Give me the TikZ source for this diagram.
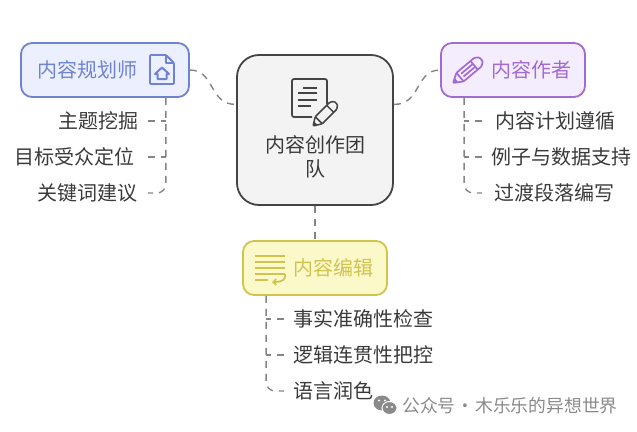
\documentclass[tikz,border=0pt]{standalone}
\usepackage{fontspec}
\setmainfont{Noto Sans CJK SC}
\usetikzlibrary{arrows.meta}
\definecolor{plannerline}{HTML}{6E83D2}
\definecolor{plannerfill}{HTML}{ECF0FE}
\definecolor{authorline}{HTML}{A26AD4}
\definecolor{authorfill}{HTML}{F4EDFD}
\definecolor{editorline}{HTML}{CFC44E}
\definecolor{editorfill}{HTML}{FBF8C9}
\definecolor{hubline}{HTML}{444444}
\definecolor{hubfill}{HTML}{F3F3F3}
\definecolor{linkgray}{HTML}{858585}
\definecolor{leaftext}{HTML}{3A3A3A}
\definecolor{marktext}{HTML}{8A8A8A}
\newcommand{\pencilbody}{
    \draw[rounded corners=1pt, line join=round] (0,0) -- (9,-5.5) -- (32,-5.5) -- (36,-2.5) -- (36,2.5) -- (32,5.5) -- (9,5.5) -- cycle;
    \fill (0,0) -- (4.5,-2.7) -- (4.5,2.7) -- cycle;
    \draw (27,-5.5) -- (27,5.5);
    \draw (9,-5.5) -- (9,5.5);
}
\tikzset{
  box/.style={draw, line width=1.8pt, rounded corners=11pt, minimum width=#1, minimum height=54pt, inner sep=0pt},
  title/.style={font=\fontsize{20}{24}\selectfont, inner sep=0pt},
  leaf/.style={font=\fontsize{20}{24}\selectfont, text=leaftext, inner sep=0pt},
  link/.style={draw=linkgray, line width=1.4pt, dash pattern=on 7pt off 6pt},
  pencil/.pic={\pencilbody},
  stripedpencil/.pic={
    \pencilbody
    \draw (12,-1.8) -- (27,-1.8);
    \draw (12,1.8) -- (27,1.8);
  }
}
\begin{document}
\begin{tikzpicture}[x=1pt, y=-1pt]
\useasboundingbox (0,0) rectangle (637,431);

% Boxes
\node[box=156pt, minimum height=150pt, rounded corners=22pt, draw=hubline, fill=hubfill] (hub) at (315,130) {};
\node[box=168pt, draw=plannerline, fill=plannerfill] (planner) at (105,70) {};
\node[box=144pt, draw=authorline, fill=authorfill] (author) at (513,70) {};
\node[box=144pt, draw=editorline, fill=editorfill] (editor) at (315,268) {};

% Titles
\node[title, text=plannerline] (plannertitle) at (87.5,70) {内容规划师};
\node[title, text=authorline] (authortitle) at (531,70) {内容作者};
\node[title, text=editorline] (editortitle) at (333,268) {内容编辑};
\node[title, text=leaftext, align=center] (hubtitle) at (315,157) {内容创作团\\队};

% Leaves
\node[leaf, anchor=east] (plannerleafa) at (139,121) {主题挖掘};
\node[leaf, anchor=east] (plannerleafb) at (135,157) {目标受众定位};
\node[leaf, anchor=east] (plannerleafc) at (138,193) {关键词建议};
\node[leaf] (authorleafa) at (555,121) {内容计划遵循};
\node[leaf] (authorleafb) at (561,157) {例子与数据支持};
\node[leaf] (authorleafc) at (554,193) {过渡段落编写};
\node[leaf, anchor=west] (editorleafa) at (293,319) {事实准确性检查};
\node[leaf, anchor=west] (editorleafb) at (293,355) {逻辑连贯性把控};
\node[leaf, anchor=west] (editorleafc) at (293,391) {语言润色};

% Links between boxes
\draw[link] (planner.east) .. controls (215,70) and (209,105) .. (hub.162);
\draw[link] (hub.18) .. controls (421,105) and (415,70) .. (author.west);
\draw[link] (hub.south) -- (editor.north);

% Trunks and stubs
\coordinate (plannerfoot) at ([xshift=-24pt]planner.south east);
\coordinate (authorfoot) at ([xshift=24pt]author.south west);
\coordinate (editorfoot) at ([xshift=24pt]editor.south west);
\coordinate (plannerstub) at ([xshift=-18pt]plannerfoot);
\coordinate (authorstub) at ([xshift=18pt]authorfoot);
\coordinate (editorstub) at ([xshift=18pt]editorfoot);
\foreach \group/\side in {planner/east, author/west, editor/west} {
    \draw[link, rounded corners=9pt] (\group foot) |- (\group leafc.\side -| \group stub);
    \draw[link] (\group leafa.\side -| \group stub) -- (\group leafa.\side -| \group foot);
    \draw[link] (\group leafb.\side -| \group stub) -- (\group leafb.\side -| \group foot);
}

% Icon of the hub
\draw[hubline, line width=1.7pt, rounded corners=2pt] (312,117) -- (292,117) -- (292,79) -- (327,79) -- (327,104);
\foreach \y/\xa/\xb in {88/303/317, 93/298/317, 100/298/317, 106/298/311} {
    \draw[hubline, line width=1.7pt] (\xa,\y) -- (\xb,\y);
}
\pic[hubline, line width=1.5pt, scale=0.9, rotate=45] at (313,126) {pencil};

% Icon of the planner
\draw[plannerline, line width=1.8pt, line join=round, rounded corners=1pt] (166,55) -- (150,55) -- (150,84) -- (174,84) -- (174,63) -- cycle;
\draw[plannerline, line width=1.8pt, line join=round] (166,55) -- (166,63) -- (174,63);
\draw[plannerline, line width=2pt, line join=round] (155,74) -- (162,67.5) -- (169,74) -- (166.5,74) -- (166.5,79) -- (157.5,79) -- (157.5,74) -- cycle;

% Icon of the author
\pic[authorline, line width=1.7pt, scale=1.02, rotate=40] at (453,83) {stripedpencil};

% Icon of the editor
\foreach \y/\xb in {256/285, 262/285, 268/285, 274/285, 280/268} {
    \draw[editorline, line width=1.7pt] (255,\y) -- (\xb,\y);
}
\draw[editorline, line width=1.7pt, -{Straight Barb[length=3pt]}] (285,274) .. controls (286,280) and (282,282) .. (272,282);

% Watermark
\fill[marktext] (382,403) ellipse [x radius=8.5, y radius=7.5];
\draw[white, line width=1pt, fill=marktext] (389.5,408) ellipse [x radius=7.5, y radius=6.5];
\foreach \x/\y in {379/400.5, 385/400.5, 387/407, 392/407} {
    \fill[white] (\x,\y) circle (1.1);
}
\node[font=\fontsize{17.8}{20}\selectfont, text=marktext, inner sep=0pt, anchor=west] (watermark) at (402,406) {公众号\hspace{-3pt} · \hspace{-3pt}木乐乐的异想世界};
\end{tikzpicture}
\end{document}
